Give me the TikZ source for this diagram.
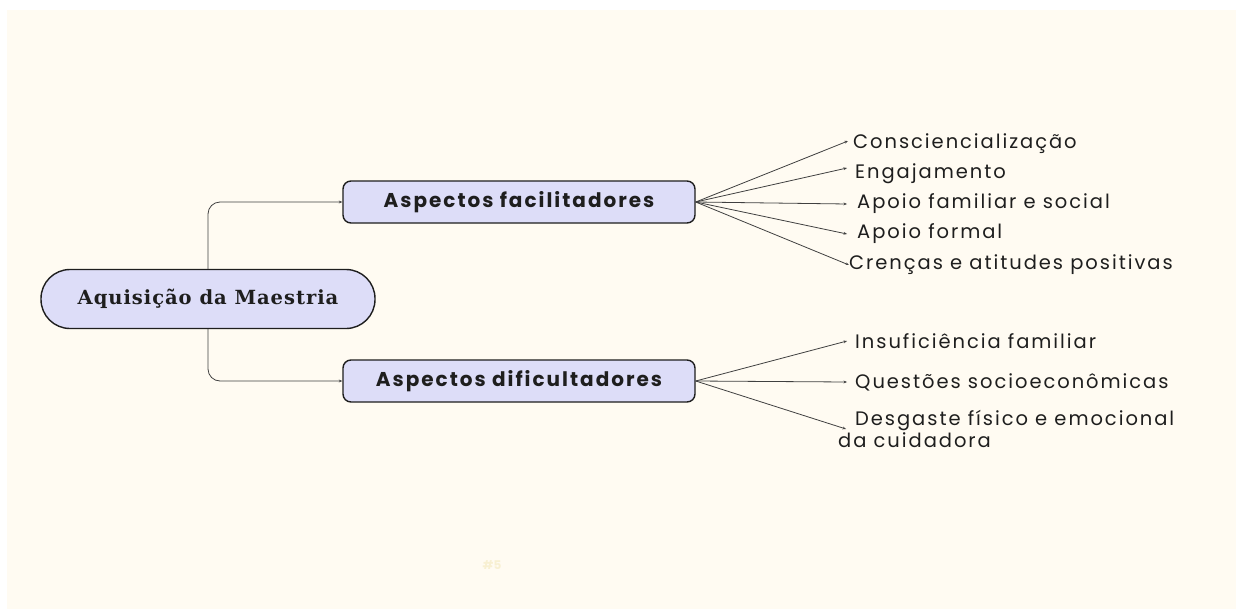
\documentclass[tikz,border=0pt]{standalone}
\usepackage{fontspec}
\setmainfont{Liberation Serif}
\newfontfamily\pop{Poppins}
\newfontfamily\popsp{Poppins}[LetterSpace=10]
\newfontfamily\popbsp{Poppins}[LetterSpace=10]
\newfontfamily\serifb{DejaVu Serif}[LetterSpace=5]
\usetikzlibrary{arrows.meta}
\definecolor{cream}{RGB}{255,251,242}
\definecolor{lav}{RGB}{221,221,248}
\definecolor{ink}{RGB}{30,30,30}
\definecolor{faint}{RGB}{248,240,210}
\tikzset{
  conn/.style={draw=ink!85, line width=0.8pt, -{Stealth[length=3.5pt,width=2.8pt]}},
  catbox/.style={draw=ink, line width=1.4pt, fill=lav, rounded corners=8pt, minimum width=352pt, minimum height=42pt, inner sep=0pt, font=\popbsp\bfseries\fontsize{20}{22}\selectfont, text=ink},
  rootbox/.style={draw=ink, line width=1.4pt, fill=lav, rounded corners=29pt, minimum width=334pt, minimum height=59pt, inner sep=0pt, font=\serifb\bfseries\fontsize{19.5}{22}\selectfont, text=ink},
  leaf/.style={anchor=west, inner sep=0pt, font=\popsp\fontsize{19.5}{19}\selectfont, text=ink}
}
\begin{document}
\begin{tikzpicture}[x=1pt,y=-1pt]
\useasboundingbox (0,0) rectangle (1236,610);
\fill[white] (0,0) rectangle (1236,610);
\fill[cream] (7,10) rectangle (1236,609);
\node[rootbox] (root) at (208,299) {Aquisição da Maestria};
\node[catbox] (fac) at (519,202) {Aspectos facilitadores};
\node[catbox] (dif) at (519,381) {Aspectos dificultadores};
\draw[conn, rounded corners=12pt] (root.north) |- (fac.west);
\draw[conn, rounded corners=12pt] (root.south) |- (dif.west);
% facilitadores leaves
\node[leaf] (l1) at (853,144) {Consciencialização};
\node[leaf] (l2) at (855,174) {Engajamento};
\node[leaf] (l3) at (857,204) {Apoio familiar e social};
\node[leaf] (l4) at (857,234) {Apoio formal};
\node[leaf] (l5) at (849,265) {Crenças e atitudes positivas};
\draw[conn] (fac.east) -- ([xshift=-5pt,yshift=3pt]l1.west);
\draw[conn] (fac.east) -- ([xshift=-8pt,yshift=6pt]l2.west);
\draw[conn] (fac.east) -- ([xshift=-10pt]l3.west);
\draw[conn] (fac.east) -- ([xshift=-10pt]l4.west);
\draw[conn] (fac.east) -- (l5.west);
% dificultadores leaves
\node[leaf] (m1) at (855,341) {Insuficiência familiar};
\node[leaf] (m2) at (855,382) {Questões socioeconômicas};
\node[leaf, align=left] (m3) at (838,429) {\hspace*{17pt}Desgaste físico e emocional\\da cuidadora};
\draw[conn] (dif.east) -- ([xshift=-8pt]m1.west);
\draw[conn] (dif.east) -- ([xshift=-8pt]m2.west);
\draw[conn] (dif.east) -- ([xshift=8pt]m3.west);
\node[font=\pop\bfseries\fontsize{12}{14}\selectfont, text=faint] (tag) at (492,565) {\#5};
\end{tikzpicture}
\end{document}
